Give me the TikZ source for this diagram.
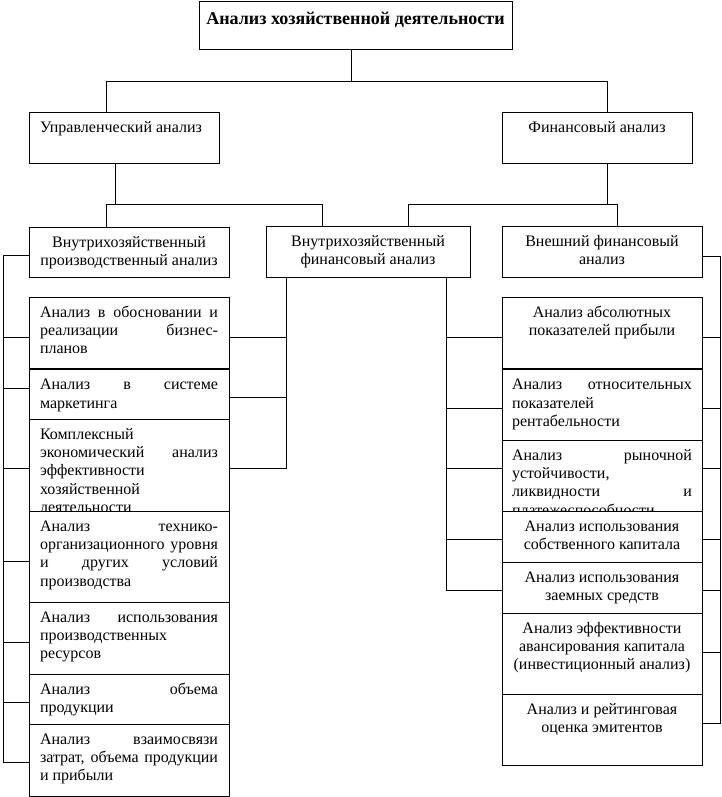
\documentclass[tikz,border=0pt]{standalone}
\usepackage{fontspec}
\setmainfont{Liberation Serif}
\newcommand{\jst}[1]{\makebox[\hsize][s]{#1}}
\newcommand{\lblock}[2]{\vtop{\hsize=#1pt\parindent=0pt\parskip=0pt\raggedright #2\par}}
\newcommand{\cblock}[2]{\vtop{\hsize=#1pt\parindent=0pt\parskip=0pt\centering #2\par}}
\newcommand{\bx}[5]{\node[box, minimum width=#4pt, minimum height=#5pt] (#1) at (#2,#3) {};}
\begin{document}
\begin{tikzpicture}[x=1pt,y=-1pt,
  box/.style={draw, line width=1pt, fill=white, inner sep=0pt, outer sep=0pt, anchor=north west, rectangle},
  txt/.style={inner sep=0pt, outer sep=0pt, font=\fontsize{16}{18.4}\selectfont},
  ttl/.style={inner sep=0pt, outer sep=0pt, font=\bfseries\fontsize{18}{21}\selectfont},
  conn/.style={line width=1pt}]
\useasboundingbox (0,0) rectangle (722,797);
% ---------- connector junctions ----------
\coordinate (j0) at (351,82);
\coordinate (j0l) at (106,82);
\coordinate (j0r) at (607,82);
\coordinate (j1) at (115,204);
\coordinate (j1l) at (106,204);
\coordinate (j1r) at (322,204);
\coordinate (j2) at (607,204);
\coordinate (j2l) at (408,204);
\coordinate (j2r) at (617,204);
\coordinate (lb0) at (3,255);
\coordinate (lbend) at (3,762);
\coordinate (mlend) at (286,468);
\coordinate (mrend) at (446,590);
\coordinate (rb0) at (720,256);
\coordinate (rbend) at (720,723);
% ---------- boxes ----------
\bx{top}{199}{2}{313}{48}
\bx{upr}{29}{113}{190}{50}
\bx{fin}{502}{113}{190}{50}
\bx{p}{29}{227}{200}{50}
\bx{q}{266}{226}{204}{51}
\bx{e}{502}{226}{200}{51}
% ---------- connectors ----------
\draw[conn] (j0 |- top.south) -- (j0);
\draw[conn] (j0l |- upr.north) -- (j0l) -- (j0r) -- (j0r |- fin.north);
\draw[conn] (j1 |- upr.south) -- (j1);
\draw[conn] (j1l |- p.north) -- (j1l) -- (j1r) -- (j1r |- q.north);
\draw[conn] (j2 |- fin.south) -- (j2);
\draw[conn] (j2l |- q.north) -- (j2l) -- (j2r) -- (j2r |- e.north);
\draw[conn] (lb0 -| p.west) -- (lb0) -- (lbend) -- (lbend -| 29,0);
\foreach \y in {337,388,468,561,642,702}{
  \coordinate (lbk) at (3,\y);
  \draw[conn] (lbk) -- (lbk -| p.west);
}
\draw[conn] (mlend |- q.south) -- (mlend) -- (mlend -| p.east);
\foreach \y in {337,397}{
  \coordinate (mlk) at (286,\y);
  \draw[conn] (mlk) -- (mlk -| p.east);
}
\draw[conn] (mrend |- q.south) -- (mrend) -- (mrend -| e.west);
\foreach \y in {337,408,468,539}{
  \coordinate (mrk) at (446,\y);
  \draw[conn] (mrk) -- (mrk -| e.west);
}
\draw[conn] (rb0 -| e.east) -- (rb0) -- (rbend) -- (rbend -| e.east);
\foreach \y in {337,408,468,539,590,652}{
  \coordinate (rbk) at (720,\y);
  \draw[conn] (rbk) -- (rbk -| e.east);
}
% ---------- texts of upper boxes ----------
\node[ttl, anchor=base] (topt) at ([shift={(0,23)}]top.north) {Анализ хозяйственной деятельности};
\node[txt, anchor=base west] (uprt) at ([shift={(11,19)}]upr.north west) {Управленческий анализ};
\node[txt, anchor=base] (fint) at ([shift={(0,19)}]fin.north) {Финансовый анализ};
\node[txt, anchor=base] (pt) at ([shift={(0,20)}]p.north) {\cblock{196}{Внутрихозяйственный\\производственный анализ}};
\node[txt, anchor=base] (qt) at ([shift={(0,20)}]q.north) {\cblock{196}{Внутрихозяйственный\\финансовый анализ}};
\node[txt, anchor=base] (et) at ([shift={(0,20)}]e.north) {\cblock{196}{Внешний финансовый\\анализ}};
% ---------- left column ----------
\bx{b1}{29}{297}{200}{71.5}
\node[txt, anchor=base west] (b1t) at ([shift={(11,20)}]b1.north west) {\lblock{178}{\jst{Анализ в обосновании и}\\\jst{реализации бизнес-}\\планов}};
\bx{b2}{29}{369.6}{200}{49.4}
\node[txt, anchor=base west] (b2t) at ([shift={(11,20)}]b2.north west) {\lblock{178}{\jst{Анализ в системе}\\маркетинга}};
\bx{b3}{29}{419}{200}{92}
\node[txt, anchor=base west] (b3t) at ([shift={(11,20)}]b3.north west) {\lblock{178}{Комплексный\\\jst{экономический анализ}\\эффективности\\хозяйственной\\деятельности}};
\bx{b4}{29}{511}{200}{91}
\node[txt, anchor=base west] (b4t) at ([shift={(11,20)}]b4.north west) {\lblock{178}{\jst{Анализ технико-}\\\jst{организационного уровня}\\\jst{и других условий}\\производства}};
\bx{b5}{29}{602}{200}{72}
\node[txt, anchor=base west] (b5t) at ([shift={(11,20)}]b5.north west) {\lblock{178}{\jst{Анализ использования}\\производственных\\ресурсов}};
\bx{b6}{29}{674}{200}{50}
\node[txt, anchor=base west] (b6t) at ([shift={(11,20)}]b6.north west) {\lblock{178}{\jst{Анализ объема}\\продукции}};
\bx{b7}{29}{724}{200}{72}
\node[txt, anchor=base west] (b7t) at ([shift={(11,20)}]b7.north west) {\lblock{178}{\jst{Анализ взаимосвязи}\\\jst{затрат, объема продукции}\\и прибыли}};
% ---------- right column ----------
\bx{r1}{502}{297}{200}{71.5}
\node[txt, anchor=base] (r1t) at ([shift={(0,20)}]r1.north) {\cblock{196}{Анализ абсолютных\\показателей прибыли}};
\bx{r2}{502}{369.6}{200}{70.4}
\node[txt, anchor=base west] (r2t) at ([shift={(10,20)}]r2.north west) {\lblock{180}{\jst{Анализ относительных}\\показателей\\рентабельности}};
\bx{r3}{502}{440}{200}{71}
\node[txt, anchor=base west] (r3t) at ([shift={(10,20)}]r3.north west) {\lblock{180}{\jst{Анализ рыночной}\\устойчивости,\\\jst{ликвидности и}\\платежеспособности}};
\bx{r4}{502}{511}{200}{51}
\node[txt, anchor=base] (r4t) at ([shift={(0,20)}]r4.north) {\cblock{196}{Анализ использования\\собственного капитала}};
\bx{r5}{502}{562}{200}{51}
\node[txt, anchor=base] (r5t) at ([shift={(0,20)}]r5.north) {\cblock{196}{Анализ использования\\заемных средств}};
\bx{r6}{502}{613}{200}{81}
\node[txt, anchor=base] (r6t) at ([shift={(0,20)}]r6.north) {\cblock{196}{Анализ эффективности\\авансирования капитала\\(инвестиционный анализ)}};
\bx{r7}{502}{694}{200}{71}
\node[txt, anchor=base] (r7t) at ([shift={(0,20)}]r7.north) {\cblock{196}{Анализ и рейтинговая\\оценка эмитентов}};
\end{tikzpicture}
\end{document}
